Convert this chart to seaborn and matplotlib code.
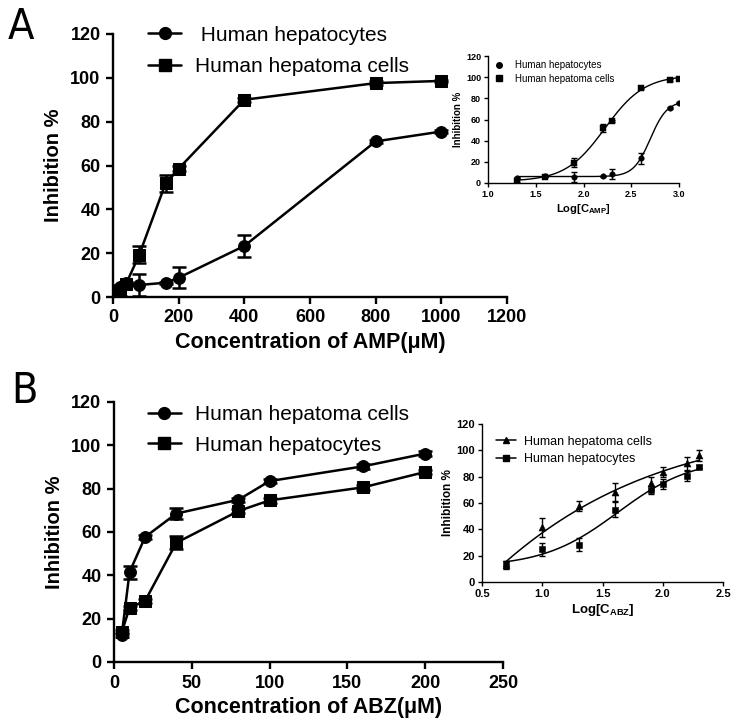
import numpy as np
import pandas as pd
import matplotlib
matplotlib.use("Agg")
import matplotlib.pyplot as plt
import seaborn as sns
from matplotlib.lines import Line2D

# ---- data ----
amp_conc = [20, 40, 80, 160, 200, 400, 800, 1000]
amp_hepatocytes = [4.5, 6.4, 5.5, 6.5, 8.8, 23.3, 71.0, 75.5]
amp_hepatocytes_err = [1.0, 0.5, 5.0, 0.5, 4.8, 4.9, 0.8, 0.8]
amp_hepatoma = [2.0, 6.0, 19.3, 51.8, 58.6, 90.0, 97.6, 98.6]
amp_hepatoma_err = [1.5, 0.8, 4.0, 3.7, 1.0, 0.8, 0.8, 0.6]

abz_conc = [5, 10, 20, 40, 80, 100, 160, 200]
abz_hepatoma = [12.6, 41.5, 57.7, 68.5, 74.9, 83.5, 90.3, 96.2]
abz_hepatoma_err = [1.0, 3.0, 1.0, 2.5, 1.0, 1.0, 1.0, 1.0]
abz_hepatoma_err_log = [3.0, 7.0, 4.0, 7.0, 5.0, 4.0, 5.0, 4.0]
abz_hepatocytes = [13.8, 25.0, 28.2, 55.0, 69.7, 74.6, 80.6, 87.7]
abz_hepatocytes_err = [1.0, 1.0, 1.0, 3.0, 1.0, 1.0, 1.0, 1.0]
abz_hepatocytes_err_log = [2.0, 5.0, 5.0, 6.0, 3.0, 4.0, 4.0, 1.0]

sns.set_style("ticks")
plt.rcParams['font.family'] = ['Liberation Sans', 'DejaVu Sans']
plt.rcParams['mathtext.fontset'] = 'custom'
plt.rcParams['mathtext.rm'] = 'Liberation Sans'
plt.rcParams['mathtext.bf'] = 'Liberation Sans:bold'
plt.rcParams['axes.linewidth'] = 1.7
for k in ['text.color', 'axes.labelcolor', 'xtick.color', 'ytick.color', 'axes.edgecolor']:
    plt.rcParams[k] = 'black'


def fit4pl(x, y):
    # simple 4-parameter logistic fit: grid over logEC50 and hill, lstsq for bottom/top
    x = np.asarray(x, float)
    y = np.asarray(y, float)
    best = None
    for x0 in np.linspace(-1.0, 4.0, 201):
        for h in np.linspace(0.2, 8.0, 157):
            f = 1.0 / (1.0 + 10 ** ((x0 - x) * h))
            A = np.column_stack([1 - f, f])
            coef = np.linalg.lstsq(A, y, rcond=None)[0]
            sse = np.sum((A @ coef - y) ** 2)
            if best is None or sse < best[0]:
                best = (sse, coef[0], coef[1], x0, h)
    _, b, t, x0, h = best
    return lambda xx: b + (t - b) / (1.0 + 10 ** ((x0 - xx) * h))


def style_main(ax, xmax, xstep):
    sns.despine(ax=ax)
    ax.set_xlim(0, xmax)
    ax.set_ylim(0, 120)
    ax.set_xticks(np.arange(0, xmax + 1, xstep))
    ax.set_yticks(np.arange(0, 121, 20))
    ax.tick_params(direction='out', length=5, width=1.7, labelsize=13, pad=4)
    for lab in ax.get_xticklabels() + ax.get_yticklabels():
        lab.set_fontweight('bold')
    ax.set_ylabel('Inhibition %', fontsize=14.5, fontweight='bold', labelpad=5)


def style_inset(ax, xlim, xticks, fs):
    sns.despine(ax=ax)
    ax.set_xlim(*xlim)
    ax.set_ylim(0, 120)
    ax.set_xticks(xticks)
    ax.set_yticks(np.arange(0, 121, 20))
    ax.xaxis.set_major_formatter(matplotlib.ticker.FormatStrFormatter('%.1f'))
    for s in ax.spines.values():
        s.set_linewidth(1.0)
    ax.tick_params(direction='out', length=3, width=1.0, labelsize=fs, pad=2)
    for lab in ax.get_xticklabels() + ax.get_yticklabels():
        lab.set_fontweight('bold')
    ax.set_ylabel('Inhibition %', fontsize=fs + 0.5, fontweight='bold', labelpad=2)


def series(ax, x, y, err, marker, label, ms=8.5, lw=1.8, cap=5, line=True):
    df = pd.DataFrame({'x': x, 'y': y})
    if line:
        sns.lineplot(data=df, x='x', y='y', ax=ax, color='black', lw=lw,
                     marker=marker, markersize=ms, markeredgecolor='black',
                     label=label, legend=False)
    else:
        sns.scatterplot(data=df, x='x', y='y', ax=ax, color='black',
                        marker=marker, s=ms ** 2, edgecolor='black', legend=False)
    ax.errorbar(x, y, yerr=err, fmt='none', ecolor='black', elinewidth=lw,
                capsize=cap, capthick=lw)


fig = plt.figure(figsize=(7.32, 7.28), dpi=100)
W, H = 732, 728


def add_ax(l, t, r, b):
    return fig.add_axes([l / W, 1 - b / H, (r - l) / W, (b - t) / H])


letter_font = dict(fontsize=31, family='DejaVu Sans', fontstretch='condensed')

# ---- panel A ----
axA = add_ax(113, 34, 507, 297)
series(axA, amp_conc, amp_hepatocytes, amp_hepatocytes_err, 'o', ' Human hepatocytes')
series(axA, amp_conc, amp_hepatoma, amp_hepatoma_err, 's', 'Human hepatoma cells')
style_main(axA, 1200, 200)
axA.set_xlabel('Concentration of AMP(\u03bcM)', fontsize=15.5, fontweight='bold', labelpad=4)
hA = [Line2D([], [], color='black', lw=1.8, marker='o', ms=8.5),
      Line2D([], [], color='black', lw=1.8, marker='s', ms=8.5)]
axA.legend(hA, [' Human hepatocytes', 'Human hepatoma cells'], loc='upper left',
           bbox_to_anchor=(0.09, 1.032), frameon=False, fontsize=15, handlelength=1.55,
           handletextpad=0.7, labelspacing=0.6, borderpad=0, borderaxespad=0)
fig.text(8 / W, 1 - 39 / H, 'A', **letter_font)

# inset A
iA = add_ax(488, 56, 679, 183)
lA = np.log10(amp_conc)
xx = np.linspace(lA.min(), lA.max(), 200)
iA.plot(xx, fit4pl(lA, amp_hepatocytes)(xx), color='black', lw=1.0)
iA.plot(xx, fit4pl(lA, amp_hepatoma)(xx), color='black', lw=1.0)
series(iA, lA, amp_hepatocytes, amp_hepatocytes_err, 'o', None, ms=4, lw=1.0, cap=2.5, line=False)
series(iA, lA, amp_hepatoma, amp_hepatoma_err, 's', None, ms=4, lw=1.0, cap=2.5, line=False)
style_inset(iA, (1.0, 3.0), [1.0, 1.5, 2.0, 2.5, 3.0], 6.5)
iA.set_xlabel(r'$\mathbf{Log[C_{AMP}]}$', fontsize=8, labelpad=2)
hiA = [Line2D([], [], color='black', ls='none', marker='o', ms=4),
       Line2D([], [], color='black', ls='none', marker='s', ms=4)]
iA.legend(hiA, ['Human hepatocytes', 'Human hepatoma cells'], loc='upper left',
          bbox_to_anchor=(0.03, 0.965), frameon=False, fontsize=7, handlelength=1.0,
          handletextpad=1.2, labelspacing=0.35, borderpad=0, borderaxespad=0)

# ---- panel B ----
axB = add_ax(114, 402, 503, 662)
series(axB, abz_conc, abz_hepatoma, abz_hepatoma_err, 'o', 'Human hepatoma cells')
series(axB, abz_conc, abz_hepatocytes, abz_hepatocytes_err, 's', 'Human hepatocytes')
style_main(axB, 250, 50)
axB.set_xlabel('Concentration of ABZ(\u03bcM)', fontsize=15.5, fontweight='bold', labelpad=4)
axB.legend(hA, ['Human hepatoma cells', 'Human hepatocytes'], loc='upper left',
           bbox_to_anchor=(0.088, 0.987), frameon=False, fontsize=15, handlelength=1.55,
           handletextpad=0.7, labelspacing=0.54, borderpad=0, borderaxespad=0)
fig.text(11 / W, 1 - 403 / H, 'B', **letter_font)

# inset B
iB = add_ax(482, 424, 723, 582)
lB = np.log10(abz_conc)
xx = np.linspace(lB.min(), lB.max(), 200)
iB.plot(xx, fit4pl(lB, abz_hepatoma)(xx), color='black', lw=1.1)
iB.plot(xx, fit4pl(lB, abz_hepatocytes)(xx), color='black', lw=1.1)
series(iB, lB, abz_hepatoma, abz_hepatoma_err_log, '^', None, ms=5, lw=1.0, cap=2.5, line=False)
series(iB, lB, abz_hepatocytes, abz_hepatocytes_err_log, 's', None, ms=5, lw=1.0, cap=2.5, line=False)
style_inset(iB, (0.5, 2.5), [0.5, 1.0, 1.5, 2.0, 2.5], 8)
iB.set_xlabel(r'$\mathbf{Log[C_{ABZ}]}$', fontsize=9.5, labelpad=2)
hiB = [Line2D([], [], color='black', lw=1.1, marker='^', ms=5),
       Line2D([], [], color='black', lw=1.1, marker='s', ms=5)]
iB.legend(hiB, ['Human hepatoma cells', 'Human hepatocytes'], loc='upper left',
          bbox_to_anchor=(0.06, 0.925), frameon=False, fontsize=9, handlelength=1.6,
          handletextpad=0.6, labelspacing=0.45, borderpad=0, borderaxespad=0)

fig.savefig('out.png', dpi=100)
